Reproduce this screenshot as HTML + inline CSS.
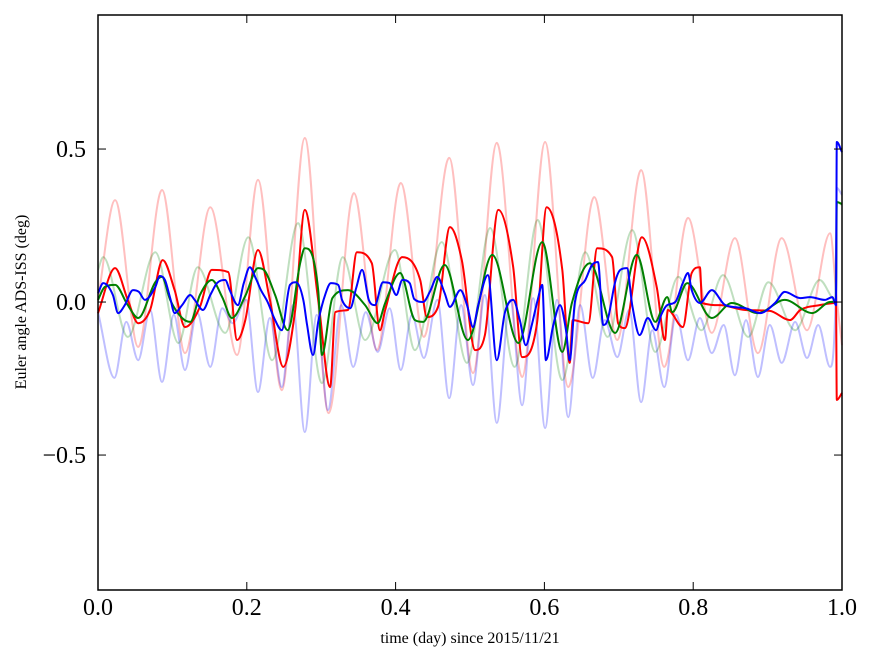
<!DOCTYPE html>
<html><head><meta charset="utf-8"><style>
html,body{margin:0;padding:0;background:#fff;}
svg{display:block;}
text{font-family:"Liberation Serif",serif;fill:#000;}
</style></head><body>
<svg id="chart" width="875" height="662" viewBox="0 0 875 662" xmlns="http://www.w3.org/2000/svg">
<g id="series"></g>
<rect x="98" y="15" width="744" height="575" fill="none" stroke="#000" stroke-width="1.5"/>
<g id="axes"></g>
<text x="470" y="643" font-size="16" text-anchor="middle">time (day) since 2015/11/21</text>
<text transform="translate(26,302) rotate(-90)" font-size="16" text-anchor="middle">Euler angle ADS-ISS (deg)</text>
</svg>
<script>
const xTicks=[0,0.2,0.4,0.6,0.8,1.0];
const xTickLabels=["0.0","0.2","0.4","0.6","0.8","1.0"];
const yTicks=[0.5,0,-0.5];
const yTickLabels=["0.5","0.0","\u22120.5"];

const pinkT=[0,.023,.054,.086,.117,.151,.187,.215,.247,.278,.310,.344,.375,.407,.438,.472,.504,.536,.570,.601,.632,.667,.698,.730,.761,.793,.825,.856,.887,.919,.953,.984,.993,1.0];
const pinkV=[.007,.333,-.147,.366,-.167,.310,-.173,.399,-.288,.536,-.363,.356,-.157,.389,-.114,.471,-.232,.520,-.245,.523,-.278,.343,-.124,.431,-.212,.275,-.101,.209,-.167,.209,-.092,.225,.007,-.141];

const lblueT=[0,.022,.038,.054,.070,.086,.102,.117,.133,.151,.167,.181,.199,.215,.231,.247,.262,.278,.294,.309,.327,.343,.360,.376,.392,.407,.422,.438,.456,.472,.488,.504,.520,.536,.554,.570,.585,.601,.617,.632,.648,.665,.681,.698,.714,.730,.745,.761,.777,.793,.809,.825,.841,.856,.871,.887,.903,.919,.937,.953,.968,.984,.991,.993,1.0];
const lblueV=[-.033,-.248,-.065,-.190,-.026,-.261,-.042,-.222,-.033,-.212,-.020,-.069,.007,-.294,-.052,-.278,-.010,-.425,-.042,-.353,-.010,-.212,-.033,-.163,-.020,-.222,-.042,-.183,.007,-.314,-.010,-.271,.023,-.395,.007,-.337,.013,-.412,.007,-.376,-.010,-.248,-.059,-.180,-.026,-.327,-.092,-.278,-.042,-.190,-.052,-.167,-.075,-.239,-.059,-.245,-.075,-.199,-.065,-.183,-.075,-.212,-.026,.373,.350];

const lgreenT=[0,.007,.040,.077,.108,.134,.171,.202,.234,.269,.301,.329,.359,.399,.426,.462,.496,.527,.560,.591,.624,.655,.685,.718,.749,.780,.811,.840,.874,.901,.937,.970,.991,.993,1.0];
const lgreenV=[.105,.147,-.114,.163,-.134,.114,-.101,.212,-.190,.258,-.265,.147,-.124,.170,-.157,.196,-.199,.242,-.212,.268,-.255,.163,-.114,.235,-.163,.082,-.092,.088,-.114,.065,-.092,.072,.007,.327,.317];

const redT=[0,.023,.040,.054,.070,.087,.103,.117,.137,.153,.175,.187,.198,.215,.231,.249,.265,.278,.296,.312,.319,.336,.348,.368,.379,.386,.409,.433,.442,.457,.473,.489,.507,.520,.538,.558,.570,.590,.603,.624,.634,.638,.659,.671,.691,.699,.708,.731,.751,.762,.766,.786,.798,.809,.812,.836,.870,.903,.930,.944,.970,.992,.993,1.0];
const redV=[-.036,.111,.007,-.069,-.026,.137,.039,-.082,-.016,.105,.098,-.124,-.059,.170,.007,-.212,-.026,.301,.007,-.278,-.033,-.026,.163,.127,-.092,-.026,.147,.072,-.049,-.016,.245,.137,-.157,-.108,.301,.114,-.180,-.069,.310,.105,-.199,-.059,-.069,.176,.147,-.069,-.085,.212,.049,-.124,-.026,-.082,.095,.114,-.003,-.010,-.026,-.029,-.059,-.026,-.010,-.003,-.320,-.297];

const greenT=[0,.009,.023,.040,.054,.077,.086,.097,.113,.124,.137,.153,.167,.180,.198,.215,.223,.238,.255,.272,.278,.296,.301,.315,.336,.359,.376,.386,.406,.426,.437,.466,.497,.530,.565,.597,.624,.637,.661,.695,.724,.749,.765,.772,.792,.825,.852,.887,.923,.960,.984,.992,.993,1.0];
const greenV=[.007,.049,.056,-.010,-.052,.065,.082,.007,-.052,-.065,.023,.072,.016,-.052,.020,.111,.105,.023,-.092,.131,.176,.039,-.173,.013,.039,-.010,-.069,-.003,.095,-.059,-.065,.121,-.124,.154,-.134,.196,-.163,-.003,.127,-.101,.154,-.065,.016,-.033,.062,-.052,-.003,-.036,.007,-.036,0,.007,.327,.320];

const blueT=[0,.007,.020,.027,.036,.047,.055,.063,.077,.083,.090,.097,.103,.113,.124,.130,.141,.151,.160,.171,.177,.188,.196,.204,.212,.219,.228,.238,.247,.258,.266,.276,.281,.289,.296,.306,.313,.323,.328,.339,.347,.355,.364,.372,.383,.392,.401,.409,.419,.425,.437,.446,.456,.466,.473,.487,.496,.504,.511,.524,.536,.547,.558,.567,.575,.583,.591,.597,.602,.612,.621,.629,.634,.641,.655,.664,.672,.679,.685,.695,.702,.711,.718,.728,.739,.750,.757,.765,.776,.786,.793,.798,.809,.825,.843,.870,.890,.910,.923,.944,.957,.977,.987,.992,.993,1.0];
const blueV=[.029,.062,.023,-.036,-.010,.039,.033,.007,.049,.085,.072,.013,-.036,-.010,.023,.007,-.026,.023,.062,.072,.039,-.010,.062,.114,.078,.039,0,-.059,-.092,.056,.065,.007,-.075,-.173,-.065,.029,.062,.056,.007,-.020,.046,.105,.007,-.010,.065,.062,.023,.072,.062,.010,0,.033,.082,.029,-.016,.039,-.010,-.082,-.010,.088,-.190,-.033,.007,-.059,-.141,-.075,.007,.056,-.190,-.075,-.010,-.092,-.190,0,.072,.121,.131,-.075,-.059,.065,.105,.111,-.010,-.108,-.052,-.092,-.042,-.010,0,.062,.095,.039,-.003,.039,-.010,-.020,-.036,-.003,.033,.013,.016,.007,.016,-.010,.523,.490];

const X0=98,X1=842,Y0=590,Y1=15,YMIN=-0.941,YMAX=0.938;
function xScale(t){return X0+(t-0)/(1-0)*(X1-X0);}
function yScale(v){return Y0-(v-YMIN)/(YMAX-YMIN)*(Y0-Y1);}
const NS="http://www.w3.org/2000/svg";
const seriesG=document.getElementById('series');
const axesG=document.getElementById('axes');

// monotone cubic (Fritsch-Carlson) path in pixel space
function monoPath(xs,ys){
  const n=xs.length;const d=[],m=new Array(n);
  for(let i=0;i<n-1;i++){const h=xs[i+1]-xs[i];d.push(h>0?(ys[i+1]-ys[i])/h:0);}
  m[0]=d[0];m[n-1]=d[n-2];
  for(let i=1;i<n-1;i++){m[i]=(d[i-1]*d[i]<=0)?0:(d[i-1]+d[i])/2;}
  for(let i=0;i<n-1;i++){
    if(d[i]===0){m[i]=0;m[i+1]=0;continue;}
    const a=m[i]/d[i],b=m[i+1]/d[i],s=a*a+b*b;
    if(s>9){const t=3/Math.sqrt(s);m[i]=t*a*d[i];m[i+1]=t*b*d[i];}
  }
  let p='M'+xs[0].toFixed(1)+' '+ys[0].toFixed(1);
  for(let i=0;i<n-1;i++){
    const h=(xs[i+1]-xs[i])/3;
    p+='C'+(xs[i]+h).toFixed(1)+' '+(ys[i]+m[i]*h).toFixed(1)+' '+(xs[i+1]-h).toFixed(1)+' '+(ys[i+1]-m[i+1]*h).toFixed(1)+' '+xs[i+1].toFixed(1)+' '+ys[i+1].toFixed(1);
  }
  return p;
}
function drawLine(ts,vs,color,op,name){
  const p=document.createElementNS(NS,'path');
  p.setAttribute('d',monoPath(ts.map(xScale),vs.map(yScale)));
  p.setAttribute('fill','none');
  p.setAttribute('stroke',color);
  p.setAttribute('stroke-opacity',op);
  p.setAttribute('stroke-width','2');
  p.setAttribute('stroke-linejoin','round');
  
  
  seriesG.appendChild(p);
}
drawLine(pinkT,pinkV,'#ff0000',0.25,'faint-red-series');
drawLine(lblueT,lblueV,'#0000ff',0.25,'faint-blue-series');
drawLine(lgreenT,lgreenV,'#008000',0.25,'faint-green-series');
drawLine(redT,redV,'#ff0000',1,'red-series');
drawLine(greenT,greenV,'#008000',1,'green-series');
drawLine(blueT,blueV,'#0000ff',1,'blue-series');

function mk(tag,attrs){const e=document.createElementNS(NS,tag);for(const k in attrs)e.setAttribute(k,attrs[k]);return e;}
xTicks.forEach((t,i)=>{
  const x=xScale(t);
  const a=mk('line',{x1:x,x2:x,y1:Y0,y2:Y0-8,stroke:'#000','stroke-width':1});
  
  
  axesG.appendChild(a);
  const b=mk('line',{x1:x,x2:x,y1:Y1,y2:Y1+8,stroke:'#000','stroke-width':1});
  
  
  axesG.appendChild(b);
  const tx=mk('text',{x:x,y:615,'font-size':24,'text-anchor':'middle'});
  tx.textContent=xTickLabels[i];
  
  
  axesG.appendChild(tx);
});
yTicks.forEach((v,i)=>{
  const y=yScale(v);
  const a=mk('line',{x1:X0,x2:X0+8,y1:y,y2:y,stroke:'#000','stroke-width':1});
  
  
  axesG.appendChild(a);
  const b=mk('line',{x1:X1,x2:X1-8,y1:y,y2:y,stroke:'#000','stroke-width':1});
  
  
  axesG.appendChild(b);
  const tx=mk('text',{x:86,y:y+8,'font-size':24,'text-anchor':'end'});
  tx.textContent=yTickLabels[i];
  
  
  axesG.appendChild(tx);
});
</script>
</body></html>
